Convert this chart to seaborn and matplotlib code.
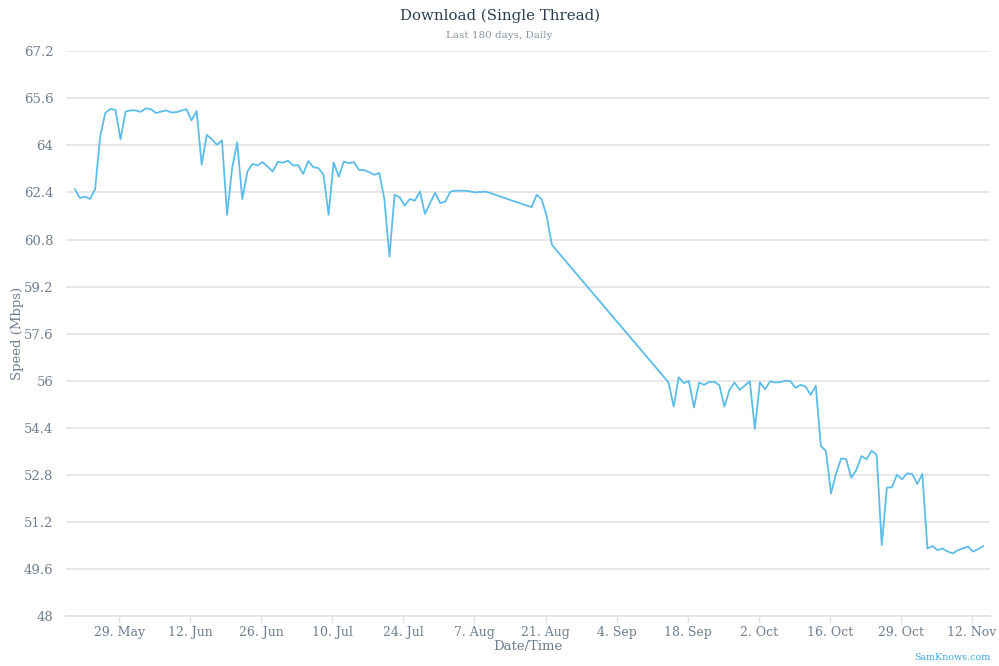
import numpy as np
import pandas as pd
import matplotlib
matplotlib.use("Agg")
import matplotlib.pyplot as plt
import matplotlib.dates as mdates
import seaborn as sns

start_date = "2016-05-20 06:00"
day_index = list(range(0, 82)) + list(range(90, 95)) + list(range(117, 180))
speed = [
    62.51, 62.21, 62.26, 62.18, 62.51, 64.30, 65.10, 65.24, 65.21, 64.21,
    65.15, 65.19, 65.19, 65.14, 65.26, 65.23, 65.10, 65.15, 65.19, 65.12,
    65.13, 65.18, 65.23, 64.85, 65.17, 63.34, 64.36, 64.21, 64.02, 64.17,
    61.64, 63.23, 64.10, 62.17, 63.11, 63.37, 63.32, 63.43, 63.28, 63.11,
    63.44, 63.41, 63.48, 63.32, 63.33, 63.03, 63.47, 63.26, 63.23, 63.00,
    61.64, 63.42, 62.94, 63.45, 63.40, 63.43, 63.17, 63.16, 63.09, 63.00,
    63.06, 62.17, 60.22, 62.32, 62.24, 61.95, 62.18, 62.12, 62.43, 61.67,
    62.04, 62.39, 62.04, 62.09, 62.43, 62.46, 62.46, 62.46, 62.43, 62.40,
    62.42, 62.43,
    61.90, 62.32, 62.17, 61.58, 60.62,
    55.94, 55.12, 56.12, 55.92, 55.99, 55.09, 55.94, 55.86, 55.96, 55.96,
    55.85, 55.12, 55.69, 55.94, 55.69, 55.83, 55.98, 54.36, 55.95, 55.71,
    55.98, 55.94, 55.95, 56.00, 55.99, 55.76, 55.86, 55.80, 55.52, 55.83,
    53.78, 53.61, 52.17, 52.85, 53.36, 53.33, 52.70, 52.97, 53.44, 53.33,
    53.62, 53.48, 50.41, 52.36, 52.38, 52.80, 52.65, 52.85, 52.83, 52.49,
    52.83, 50.30, 50.38, 50.24, 50.30, 50.19, 50.13, 50.24, 50.30, 50.36,
    50.19, 50.28, 50.38,
]
tick_dates = ["2016-05-29", "2016-06-12", "2016-06-26", "2016-07-10", "2016-07-24",
              "2016-08-07", "2016-08-21", "2016-09-04", "2016-09-18", "2016-10-02",
              "2016-10-16", "2016-10-30", "2016-11-13"]
tick_labels = ["29. May", "12. Jun", "26. Jun", "10. Jul", "24. Jul", "7. Aug",
               "21. Aug", "4. Sep", "18. Sep", "2. Oct", "16. Oct", "29. Oct", "12. Nov"]
y_ticks = [48, 49.6, 51.2, 52.8, 54.4, 56, 57.6, 59.2, 60.8, 62.4, 64, 65.6, 67.2]
y_labels = ["48", "49.6", "51.2", "52.8", "54.4", "56", "57.6", "59.2", "60.8",
            "62.4", "64", "65.6", "67.2"]

df = pd.DataFrame({
    "date": pd.Timestamp(start_date) + pd.to_timedelta(day_index, unit="D"),
    "speed": speed,
})

sns.set_theme(style="white")
plt.rcParams["font.family"] = ["DejaVu Serif", "DejaVu Sans"]

label_col = "#6f7f8f"
fig = plt.figure(figsize=(9.99, 6.66), dpi=100)
ax = fig.add_axes([0.066, 0.075, 0.925, 0.848])

sns.lineplot(data=df, x="date", y="speed", ax=ax, color="#5cbde9", linewidth=1.3)

ax.set_ylim(48, 67.2)
ax.set_xlim(pd.Timestamp("2016-05-18 12:00"), pd.Timestamp("2016-11-16 14:00"))
ax.set_yticks(y_ticks)
ax.set_yticklabels(y_labels)
ax.set_xticks([pd.Timestamp(d) for d in tick_dates])
ax.set_xticklabels(tick_labels)

ax.grid(axis="y", color="#e4e4e4", linewidth=1.2)
ax.grid(axis="x", visible=False)
for s in ["top", "right", "left"]:
    ax.spines[s].set_visible(False)
ax.spines["bottom"].set_color("#e6e2dc")
ax.spines["bottom"].set_linewidth(1.2)
ax.tick_params(axis="y", length=0, labelsize=9.5, labelcolor=label_col, pad=9)
ax.tick_params(axis="x", length=5, width=1, color="#e6e2dc", direction="out",
               labelsize=9, labelcolor=label_col, pad=2, bottom=True)

ax.set_xlabel("Date/Time", fontsize=9.5, color=label_col, labelpad=1)
ax.set_ylabel("Speed (Mbps)", fontsize=9.5, color=label_col)
ax.yaxis.set_label_coords(-0.045, 0.5)

fig.text(0.5, 0.977, "Download (Single Thread)", ha="center", va="center",
         fontsize=10.8, color="#2c3e50")
fig.text(0.5, 0.947, "Last 180 days, Daily", ha="center", va="center",
         fontsize=7.5, color="#8a96a3")
fig.text(0.991, 0.006, "SamKnows.com", ha="right", va="bottom",
         fontsize=6.8, color="#3aa8e0")

fig.savefig("out.png", dpi=100)
